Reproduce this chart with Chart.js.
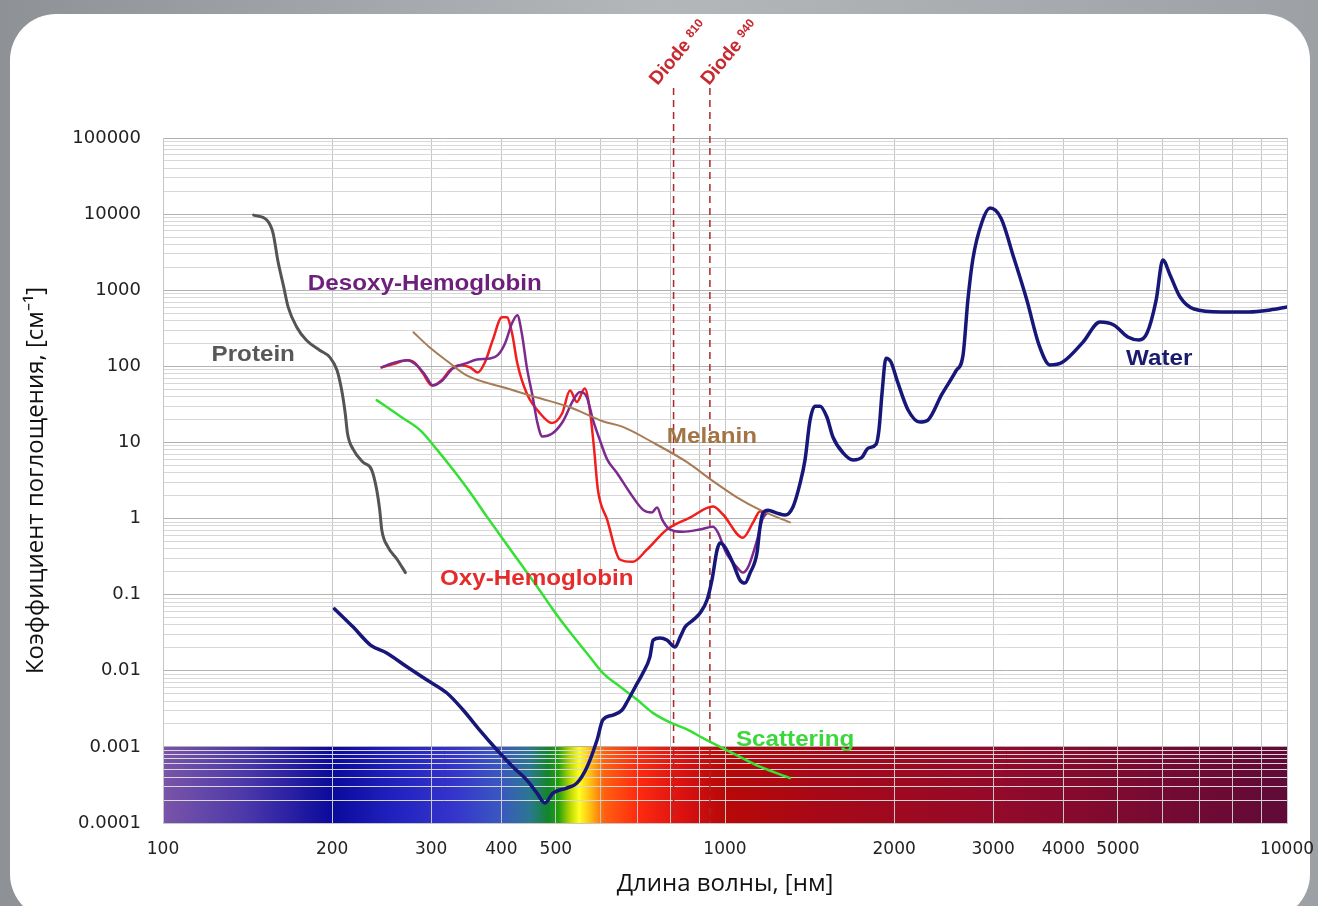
<!DOCTYPE html>
<html>
<head>
<meta charset="utf-8">
<script src="https://cdn.jsdelivr.net/npm/chart.js@4.4.1/dist/chart.umd.min.js"></script>
<style>
  html, body { margin: 0; padding: 0; width: 1318px; height: 906px; overflow: hidden;
    background: linear-gradient(90deg, #8e9297, #b4b7ba 50%, #9da1a5); }
  #panel { position: absolute; left: 10px; top: 14px; width: 1300px; height: 906px;
    background: #fff; border-radius: 46px; }
  #chart { position: absolute; left: 0; top: 0; }
</style>
</head>
<body>
<div id="panel"></div>
<canvas id="chart" width="1318" height="906"></canvas>
<script>
// wavelength, nm  /  absorption coefficient, cm-1
const waterNm = [202, 218, 234, 250, 272, 295, 320, 342, 366, 393, 420, 444, 463, 478, 494, 523, 545, 568, 592, 606,
  632, 656, 672, 692, 714, 735, 745, 766, 788, 815, 832, 849, 877, 903, 929, 948, 968, 980, 1000, 1033,
  1063, 1085, 1108, 1140, 1154, 1168, 1193, 1237, 1279, 1321, 1360, 1388, 1417, 1446, 1476, 1518, 1556, 1622, 1690, 1753,
  1797, 1857, 1879, 1903, 1934, 1974, 2023, 2117, 2223, 2297, 2432, 2576, 2652, 2705, 2761, 2866, 2962, 3097, 3266, 3444,
  3621, 3787, 3990, 4335, 4648, 4918, 5209, 5454, 5636, 5850, 6013, 6193, 6452, 6833, 7630, 8554, 9330, 10000];
const waterAbs = [0.065, 0.0375, 0.0218, 0.0171, 0.0112, 0.00755, 0.0051, 0.00305, 0.00166, 0.00091, 0.00054, 0.000366, 0.000247, 0.000183, 0.000247, 0.000288, 0.000334, 0.00054, 0.00123, 0.00225,
  0.00262, 0.00305, 0.0041, 0.0061, 0.0093, 0.0151, 0.0253, 0.0269, 0.0253, 0.0205, 0.0277, 0.0375, 0.0463, 0.0573, 0.085, 0.156, 0.386, 0.477, 0.42, 0.26,
  0.156, 0.142, 0.192, 0.352, 0.77, 1.18, 1.29, 1.18, 1.11, 1.42, 2.9, 5.9, 19.7, 30, 30, 21.6, 11.8, 7.3, 5.9, 6.4,
  8.4, 9.5, 14.6, 44.6, 128, 114, 66, 26.7, 18.5, 19.7, 43, 87, 141, 743, 2570, 7870, 12000, 8890, 2650, 743,
  190, 104, 114, 208, 382, 349, 243, 222, 274, 743, 2495, 1585, 815, 566, 518, 518, 550, 601];

const proteinNm = [145, 153, 157, 160, 164, 167, 173, 180, 190, 198, 204, 208, 211, 213, 218, 227, 235, 240, 243, 245, 251, 261, 270];
const proteinAbs = [9700, 8350, 5600, 2500, 1100, 600, 327, 220, 163, 132, 89, 48, 24, 13, 8.1, 5.5, 4.4, 2.4, 1.3, 0.72, 0.43, 0.29, 0.195];

const desoxyNm = [245, 256, 272, 283, 293, 302, 314, 328, 347, 362, 382, 394, 406, 418, 427, 435, 444, 455, 463, 473,
  492, 515, 537, 552, 568, 582, 599, 617, 642, 677, 715, 741, 757, 773, 798, 841, 903, 952, 972, 1004,
  1050, 1076, 1099, 1141, 1165, 1189];
const desoxyAbs = [97, 110, 120, 103, 76, 56, 65, 94, 110, 123, 127, 140, 200, 370, 470, 270, 97, 39, 19, 12,
  13, 19, 36, 46, 39, 20, 10.7, 6.0, 4.0, 2.2, 1.3, 1.2, 1.4, 0.97, 0.72, 0.67, 0.72, 0.78, 0.65, 0.36,
  0.23, 0.195, 0.23, 0.53, 0.97, 1.2];

const oxyNm = [245, 256, 272, 281, 290, 301, 314, 324, 338, 352, 363, 374, 386, 401, 409, 418, 427, 444, 469, 492,
  513, 530, 545, 563, 575, 585, 594, 617, 650, 685, 726, 788, 866, 952, 992, 1076, 1122, 1154, 1177];
const oxyAbs = [97, 106, 120, 110, 81, 56, 67, 89, 103, 97, 83, 113, 220, 440, 440, 270, 110, 44, 24, 18,
  24, 48, 34, 51, 26, 8.1, 2.4, 0.97, 0.29, 0.27, 0.39, 0.72, 1.03, 1.44, 1.13, 0.56, 0.89, 1.24, 1.24];

const melaninNm = [279, 298, 324, 347, 403, 463, 530, 606, 658, 744, 856, 952, 1050, 1154, 1305];
const melaninAbs = [280, 178, 110, 76, 53, 39, 29, 19, 16, 10, 5.5, 3.1, 1.9, 1.3, 0.89];

const scatterNm = [240, 267, 287, 307, 328, 352, 377, 403, 432, 463, 494, 530, 568, 606, 650, 697, 744, 798, 856, 914, 980, 1063, 1154, 1305];
const scatterAbs = [36, 21, 14.4, 8.1, 4.4, 2.2, 1.06, 0.53, 0.26, 0.128, 0.064, 0.032, 0.017, 0.0094, 0.0062, 0.0042, 0.0028, 0.0021, 0.0017, 0.0013, 0.001, 0.00074, 0.00055, 0.00039];

const diodeNm = [810, 940];

const xTickLabels = [100, 200, 300, 400, 500, 1000, 2000, 3000, 4000, 5000, 10000];
const yTickLabels = ['100000', '10000', '1000', '100', '10', '1', '0.1', '0.01', '0.001', '0.0001'];

// visible spectrum strip under the plot
const spectrumNm = [100, 140, 200, 260, 330, 400, 450, 485, 505, 530, 550, 575, 610, 700, 850, 1000, 1500, 3000, 10000];
const spectrumColors = ['#7a55a8', '#4c38aa', '#0a0a9c', '#2222c0', '#3535cc', '#3a58c0', '#2a7890', '#12862a', '#22a010', '#b8d800',
  '#ffff22', '#ffc010', '#ff6010', '#ff2a10', '#d81010', '#b80808', '#a60818', '#940a2a', '#600a38'];

// build grid positions 1..9 x 10^n
function logGrid(fromExp, toExp) {
  const out = [];
  for (let e = fromExp; e < toExp; e++) {
    for (let m = 1; m <= 9; m++) out.push(parseFloat(m + 'e' + e));
  }
  out.push(parseFloat('1e' + toExp));
  return out;
}
const xGrid = logGrid(2, 4);
const yGrid = logGrid(-4, 5);
const isDecade = v => Math.abs(Math.log10(v) - Math.round(Math.log10(v))) < 1e-6;

const pts = (xs, ys) => xs.map((v, i) => ({ x: v, y: ys[i] }));

const seriesLabels = [
  { text: 'Desoxy-Hemoglobin', nm: 181, abs: 1200, color: '#6e1f7c' },
  { text: 'Protein', nm: 122, abs: 141, color: '#585858' },
  { text: 'Melanin', nm: 788, abs: 11.8, color: '#a37545' },
  { text: 'Oxy-Hemoglobin', nm: 311, abs: 0.16, color: '#e52b2b' },
  { text: 'Scattering', nm: 1046, abs: 0.00123, color: '#3ad83a' },
  { text: 'Water', nm: 5170, abs: 125, color: '#1b1b6e' }
];

const decor = {
  id: 'decor',
  beforeDraw(chart) {
    const { ctx, chartArea: a, scales: { x, y } } = chart;
    const top = y.getPixelForValue(0.001);
    const bot = y.getPixelForValue(0.0001);
    const g = ctx.createLinearGradient(a.left, 0, a.right, 0);
    spectrumNm.forEach((nm, i) => {
      g.addColorStop((x.getPixelForValue(nm) - a.left) / (a.right - a.left), spectrumColors[i]);
    });
    ctx.save();
    ctx.fillStyle = g;
    ctx.fillRect(a.left, top, a.right - a.left, bot - top);
    ctx.restore();
  },
  beforeDatasetsDraw(chart) {
    const { ctx, chartArea: a, scales: { x } } = chart;
    diodeNm.forEach((nm, i) => {
      const px = x.getPixelForValue(nm);
      ctx.save();
      ctx.strokeStyle = '#a8282c';
      ctx.lineWidth = 1.5;
      ctx.setLineDash([7, 5]);
      ctx.beginPath();
      ctx.moveTo(px, a.top - 50);
      ctx.lineTo(px, a.bottom);
      ctx.stroke();
      ctx.restore();

      ctx.save();
      ctx.translate(px + (i === 0 ? -16 : -1), a.top - 52);
      ctx.rotate(-50 * Math.PI / 180);
      ctx.fillStyle = '#c8282e';
      ctx.font = 'bold 19px "Liberation Sans"';
      ctx.fillText('Diode', 0, 0);
      const w = ctx.measureText('Diode').width;
      ctx.font = 'bold 12px "Liberation Sans"';
      ctx.fillText(String(nm), w + 5, -5);
      ctx.restore();
    });
  },
  afterDatasetsDraw(chart) {
    const { ctx, scales: { x, y } } = chart;
    seriesLabels.forEach(l => {
      ctx.save();
      ctx.translate(x.getPixelForValue(l.nm), y.getPixelForValue(l.abs));
      ctx.scale(1.1, 1);
      ctx.font = 'bold 22px "Liberation Sans"';
      ctx.fillStyle = l.color;
      ctx.textBaseline = 'middle';
      ctx.fillText(l.text, 0, 0);
      ctx.restore();
    });
  }
};

const line = (data, color, width) => ({
  data, showLine: true, borderColor: color, backgroundColor: color, borderWidth: width,
  pointRadius: 0, cubicInterpolationMode: 'monotone', fill: false
});

new Chart(document.getElementById('chart'), {
  type: 'scatter',
  data: {
    datasets: [
      line(pts(waterNm, waterAbs), '#17177a', 3.5),
      line(pts(melaninNm, melaninAbs), '#a77b55', 2),
      line(pts(desoxyNm, desoxyAbs), '#7d2a8f', 2.5),
      line(pts(oxyNm, oxyAbs), '#f21e1e', 2.5),
      line(pts(scatterNm, scatterAbs), '#35e035', 2.5),
      line(pts(proteinNm, proteinAbs), '#545454', 3)
    ]
  },
  options: {
    responsive: false,
    animation: false,
    layout: { padding: { top: 138, right: 31, left: 0, bottom: 0 } },
    plugins: { legend: { display: false }, tooltip: { enabled: false } },
    elements: { line: { borderJoinStyle: 'round', borderCapStyle: 'round' } },
    scales: {
      x: {
        type: 'logarithmic', min: 100, max: 10000,
        afterBuildTicks: s => { s.ticks = xGrid.map(v => ({ value: v })); },
        afterFit: s => { s.height = 83; s.paddingLeft = 0; s.paddingRight = 0; },
        ticks: {
          autoSkip: false, maxRotation: 0, minRotation: 0, padding: 16, color: '#222',
          font: { family: 'DejaVu Sans', size: 17 },
          callback: v => xTickLabels.includes(v) ? String(v) : ''
        },
        grid: { color: '#c6c6c6', drawTicks: false },
        border: { color: '#c6c6c6' },
        title: { display: true, text: 'Длина волны, [нм]', color: '#111',
          font: { family: 'Open Sans', size: 24 }, padding: { top: 0, bottom: 7 } }
      },
      y: {
        type: 'logarithmic', min: 0.0001, max: 100000,
        afterBuildTicks: s => { s.ticks = yGrid.map(v => ({ value: v })); },
        afterFit: s => { s.width = 163; s.paddingTop = 0; s.paddingBottom = 0; },
        ticks: {
          autoSkip: false, padding: 22, color: '#222',
          font: { family: 'DejaVu Sans', size: 18 },
          callback: v => yTickLabels.find(t => parseFloat(t) === v) || ''
        },
        grid: { color: c => isDecade(c.tick.value) ? '#b2b2b2' : '#d8d8d8', drawTicks: false },
        border: { color: '#c6c6c6' },
        title: { display: true, text: 'Коэффициент поглощения, [см⁻¹]', color: '#111',
          font: { family: 'Open Sans', size: 24 }, padding: { top: 22, bottom: 0 } }
      }
    }
  },
  plugins: [decor]
});
</script>
</body>
</html>
